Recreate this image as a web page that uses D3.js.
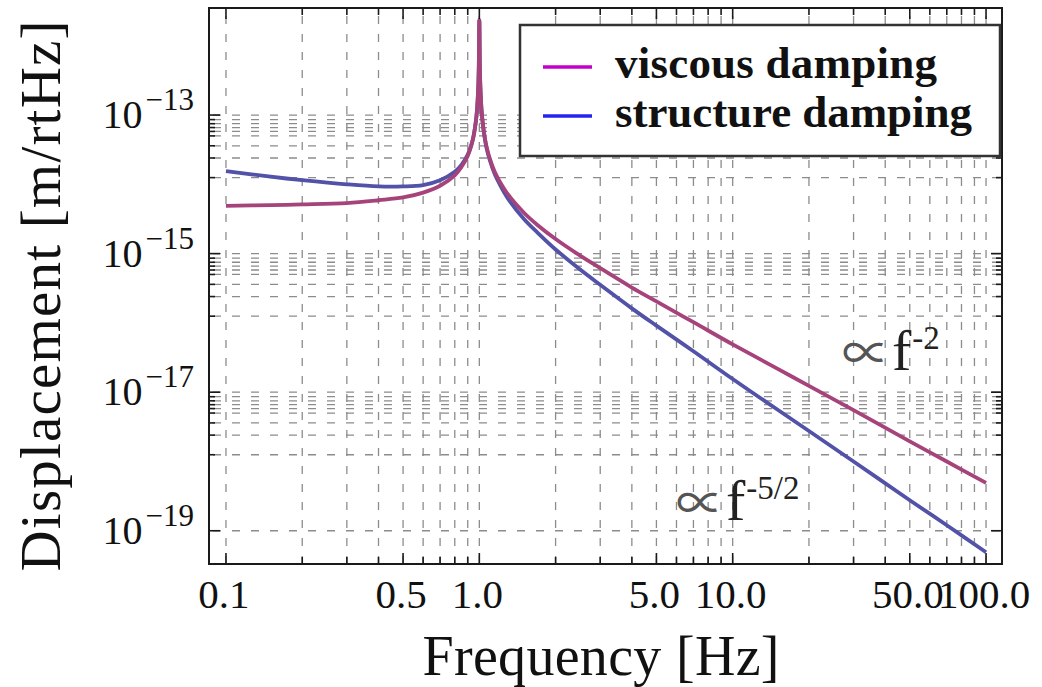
<!DOCTYPE html>
<html>
<head>
<meta charset="utf-8">
<script src="https://cdn.jsdelivr.net/npm/d3@7"></script>
<style>
  html, body { margin: 0; padding: 0; background: #fff; }
  svg { display: block; }
  text { font-family: "Liberation Serif", "DejaVu Serif", serif; }
</style>
</head>
<body>
<svg id="chart"></svg>
<script>
const freqs = [0.1, 0.15, 0.2, 0.3, 0.4, 0.5, 0.6, 0.7, 0.8, 0.85, 0.9, 0.93, 0.95, 0.97, 0.98, 0.99, 0.995,
               1.0, 1.005, 1.01, 1.02, 1.03, 1.05, 1.07, 1.1, 1.15, 1.2, 1.3, 1.5, 1.7, 2, 2.5, 3, 4, 5, 7,
               10, 15, 20, 30, 50, 70, 100];

// log10 of displacement [m/rtHz]
const viscousExp = [-14.31, -14.30, -14.29, -14.27, -14.23, -14.19, -14.12, -14.02, -13.87, -13.75, -13.59,
                    -13.44, -13.30, -13.08, -12.91, -12.61, -12.32, -11.63, -12.32, -12.61, -12.92, -13.09,
                    -13.32, -13.47, -13.63, -13.82, -13.95, -14.15, -14.41, -14.59, -14.79, -15.03, -15.21,
                    -15.49, -15.69, -15.99, -16.31, -16.66, -16.91, -17.26, -17.71, -18.00, -18.31];
const structureExp = [-13.81, -13.89, -13.94, -14.00, -14.03, -14.03, -14.01, -13.94, -13.82, -13.72, -13.57,
                      -13.43, -13.29, -13.08, -12.90, -12.61, -12.32, -11.63, -12.32, -12.61, -12.92, -13.10,
                      -13.33, -13.49, -13.65, -13.85, -13.99, -14.21, -14.50, -14.70, -14.94, -15.23, -15.45,
                      -15.79, -16.04, -16.41, -16.81, -17.25, -17.56, -18.00, -18.56, -18.92, -19.31];

const seriesNames = ["viscous damping", "structure damping"];
const curveColors = ["#a6437a", "#5252a8"];
const legendColors = ["#c400c8", "#2424f0"];

const xTickValues = [0.1, 0.5, 1, 5, 10, 50, 100];
const xTickLabels = ["0.1", "0.5", "1.0", "5.0", "10.0", "50.0", "100.0"];
const yMajorExp = [-19, -17, -15, -13];
const yClusterExp = [-17, -15, -13];
const yMinorFactors = [0.86, 0.75, 0.66, 0.58, 0.5, 0.36, 0.24, 0.125];

const W = 1042, H = 687;
const box = {left: 209, right: 1002, top: 8, bottom: 564};

const svg = d3.select("#chart").attr("width", W).attr("height", H);

const x = d3.scaleLog()
            .domain([Math.pow(10, -1.067), Math.pow(10, 2.063)])
            .range([box.left, box.right]);
const y = d3.scaleLog()
            .domain([Math.pow(10, -19.48), Math.pow(10, -11.455)])
            .range([box.bottom, box.top]);

// grid values
const xGrid = x.ticks().filter(v => v >= 0.0999 && v <= 100.01);
const yMajor = yMajorExp.map(e => Math.pow(10, e));
const yMinor = [];
yClusterExp.forEach(e => yMinorFactors.forEach(k => yMinor.push(k * Math.pow(10, e))));

const grid = svg.append("g")
                .attr("stroke", "#8c8c8c")
                .attr("stroke-width", 1.3)
                .attr("fill", "none");

grid.selectAll(".vgrid")
    .data(xGrid)
    .enter()
    .append("line")
    .attr("x1", d => x(d)).attr("x2", d => x(d))
    .attr("y1", box.top).attr("y2", box.bottom)
    .attr("stroke-dasharray", "8,10")
    .attr("stroke-dashoffset", -8);

grid.selectAll(".hgrid")
    .data(yMajor.concat(yMinor))
    .enter()
    .append("line")
    .attr("x1", box.left).attr("x2", box.right)
    .attr("y1", d => y(d)).attr("y2", d => y(d))
    .attr("stroke-dasharray", "8,11")
    .attr("stroke-dashoffset", -4);

// curves
svg.append("clipPath").attr("id", "plotclip")
   .append("rect")
   .attr("x", box.left).attr("y", box.top)
   .attr("width", box.right - box.left).attr("height", box.bottom - box.top);

const line = d3.line()
               .x(d => x(d.f))
               .y(d => y(Math.pow(10, d.e)))
               .curve(d3.curveCatmullRom.alpha(0.5));

const series = [
  freqs.map((f, i) => ({f: f, e: viscousExp[i]})),
  freqs.map((f, i) => ({f: f, e: structureExp[i]}))
];

const curves = svg.append("g").attr("clip-path", "url(#plotclip)");
// structure first so viscous sits on top
[1, 0].forEach(i => {
  curves.append("path")
        .datum(series[i])
        .attr("d", line)
        .attr("fill", "none")
        .attr("stroke", curveColors[i])
        .attr("stroke-width", 3.8)
        .attr("stroke-linejoin", "round");
});

// frame + ticks
svg.append("rect")
   .attr("x", box.left).attr("y", box.top)
   .attr("width", box.right - box.left).attr("height", box.bottom - box.top)
   .attr("fill", "none")
   .attr("stroke", "#1a1a1a")
   .attr("stroke-width", 2);

const ticks = svg.append("g").attr("stroke", "#1a1a1a").attr("stroke-width", 1.6);
const isMajorX = v => xTickValues.some(t => Math.abs(t - v) < 1e-9);

xGrid.forEach(v => {
  const len = isMajorX(v) ? 11 : 7;
  ticks.append("line").attr("x1", x(v)).attr("x2", x(v)).attr("y1", box.bottom).attr("y2", box.bottom - len);
  ticks.append("line").attr("x1", x(v)).attr("x2", x(v)).attr("y1", box.top).attr("y2", box.top + len);
});
yMajor.concat(yMinor).forEach((v, i) => {
  const len = i < yMajor.length ? 11 : 6;
  ticks.append("line").attr("x1", box.left).attr("x2", box.left + len).attr("y1", y(v)).attr("y2", y(v));
  ticks.append("line").attr("x1", box.right).attr("x2", box.right - len).attr("y1", y(v)).attr("y2", y(v));
});

// tick labels
svg.append("g")
   .selectAll("text")
   .data(xTickValues)
   .enter()
   .append("text")
   .attr("x", d => x(d) - 2)
   .attr("y", 608)
   .attr("text-anchor", "middle")
   .attr("font-size", 41)
   .attr("fill", "#111")
   .text((d, i) => xTickLabels[i]);

const yLab = svg.append("g")
                .selectAll("text")
                .data(yMajorExp)
                .enter()
                .append("text")
                .attr("x", 194)
                .attr("y", d => y(Math.pow(10, d)) + 13)
                .attr("text-anchor", "end")
                .attr("fill", "#111");
yLab.append("tspan").attr("font-size", 40).text("10");
yLab.append("tspan").attr("font-size", 31).attr("dy", -18).attr("dx", 3).text(d => "\u2212" + Math.abs(d));

// axis titles
svg.append("text")
   .attr("x", 601).attr("y", 675)
   .attr("text-anchor", "middle")
   .attr("font-size", 56)
   .attr("fill", "#111")
   .attr("textLength", 357)
   .text("Frequency [Hz]");

svg.append("text")
   .attr("transform", "translate(60,296) rotate(-90)")
   .attr("text-anchor", "middle")
   .attr("font-size", 57)
   .attr("fill", "#111")
   .attr("textLength", 551)
   .text("Displacement [m/rtHz]");

// legend
const legend = svg.append("g");
legend.append("rect")
      .attr("x", 520).attr("y", 25)
      .attr("width", 480).attr("height", 131)
      .attr("fill", "#fff")
      .attr("stroke", "#333")
      .attr("stroke-width", 2.5);

seriesNames.forEach((name, i) => {
  const ly = 67 + i * 49;
  legend.append("line")
        .attr("x1", 543).attr("x2", 592)
        .attr("y1", ly).attr("y2", ly)
        .attr("stroke", legendColors[i])
        .attr("stroke-width", 3.5);
  legend.append("text")
        .attr("x", 615).attr("y", ly + 11)
        .attr("font-size", 45)
        .attr("font-weight", "bold")
        .attr("fill", "#111")
        .attr("textLength", i === 0 ? 322 : 357)
        .text(name);
});

// slope annotations
const note = (tx, ty, sup) => {
  const t = svg.append("text").attr("x", tx).attr("y", ty).attr("fill", "#222");
  t.append("tspan")
   .attr("font-size", 48)
   .attr("fill", "#555")
   .attr("font-family", "Noto Sans CJK JP")
   .text("\u221d");
  t.append("tspan").attr("font-size", 58).attr("dx", 2).text("f");
  t.append("tspan").attr("font-size", 33).attr("dx", 1).attr("dy", -21).text(sup);
};
note(842, 370, "-2");
note(676, 520, "-5/2");
</script>
</body>
</html>
